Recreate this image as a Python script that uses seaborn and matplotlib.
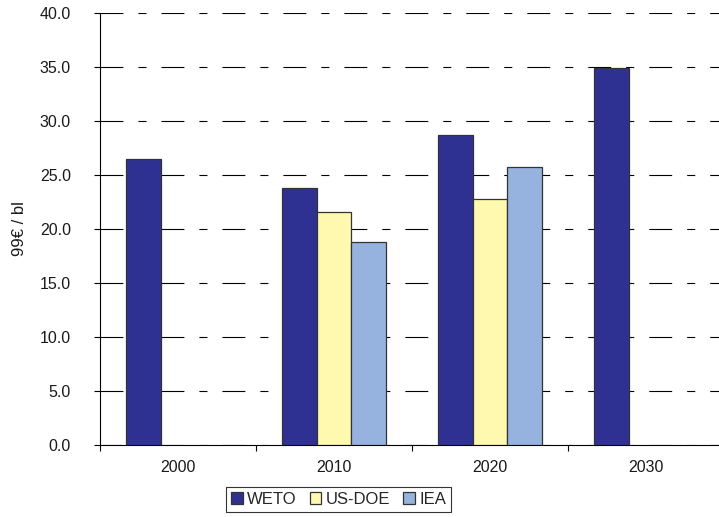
import numpy as np
import pandas as pd
import matplotlib
matplotlib.use("Agg")
import matplotlib.pyplot as plt
import seaborn as sns
from matplotlib.ticker import FormatStrFormatter, FixedLocator

sns.set_style("white")
plt.rcParams["font.family"] = ["Liberation Sans", "DejaVu Sans"]
plt.rcParams["lines.scale_dashes"] = False

# Oil price projections (99€ per barrel)
years = ["2000", "2010", "2020", "2030"]
sources = ["WETO", "US-DOE", "IEA"]
weto = [26.5, 23.8, 28.7, 34.9]
us_doe = [np.nan, 21.6, 22.8, np.nan]
iea = [np.nan, 18.8, 25.7, np.nan]
colors = ["#2E3192", "#FFF9B0", "#95B3DE"]

df = pd.DataFrame({
    "year": years * 3,
    "source": [s for s in sources for _ in years],
    "value": weto + us_doe + iea,
}).dropna()

W, H = 719, 517
fig = plt.figure(figsize=(W / 100, H / 100), dpi=100)
ax = fig.add_axes([100 / W, (H - 445) / H, 624 / W, 432 / H])

sns.barplot(data=df, x="year", y="value", hue="source",
            order=years, hue_order=sources, palette=colors,
            width=0.673, gap=0, edgecolor="#333333", linewidth=0.9,
            saturation=1, ax=ax, zorder=3)

ax.set_xlim(-0.5, 3.5)
ax.set_ylim(0, 40)
ax.set_yticks(np.arange(0, 40.1, 5))
ax.yaxis.set_major_formatter(FormatStrFormatter("%.1f"))

# dash-dot style gridlines
ax.yaxis.grid(True, color="black", linewidth=0.8,
              linestyle=(0, (16.5, 10.8, 5.8, 10.8)), zorder=0)
ax.set_axisbelow(True)

for side in ["top", "right"]:
    ax.spines[side].set_visible(False)
for side in ["left", "bottom"]:
    ax.spines[side].set_color("black")
    ax.spines[side].set_linewidth(0.8)

ax.tick_params(axis="y", which="major", direction="out", length=4,
               width=0.8, color="black", pad=17, labelsize=11.5, left=True,
               labelcolor="#1a1a1a")
ax.tick_params(axis="x", which="major", length=0, pad=11, labelsize=11.5,
               labelcolor="#1a1a1a")
ax.xaxis.set_minor_locator(FixedLocator([-0.5, 0.5, 1.5, 2.5, 3.5]))
ax.tick_params(axis="x", which="minor", direction="out", length=4,
               width=0.8, color="black", bottom=True)

ax.set_xlabel("")
ax.set_ylabel("99€ / bl", fontsize=12, color="#1a1a1a")
ax.yaxis.set_label_coords(-73 / 624, 0.5)

handles, labels = ax.get_legend_handles_labels()
if ax.get_legend() is not None:
    ax.get_legend().remove()
leg = fig.legend(handles, labels, loc="center",
                 bbox_to_anchor=(338.5 / W, 1 - 499.5 / H),
                 ncol=3, fontsize=12, frameon=True, fancybox=False,
                 edgecolor="black", handlelength=0.7, handleheight=0.7,
                 handletextpad=0.25, columnspacing=0.8, borderpad=0.3,
                 borderaxespad=0)
leg.get_frame().set_linewidth(0.8)

fig.savefig("out.png", dpi=100)
